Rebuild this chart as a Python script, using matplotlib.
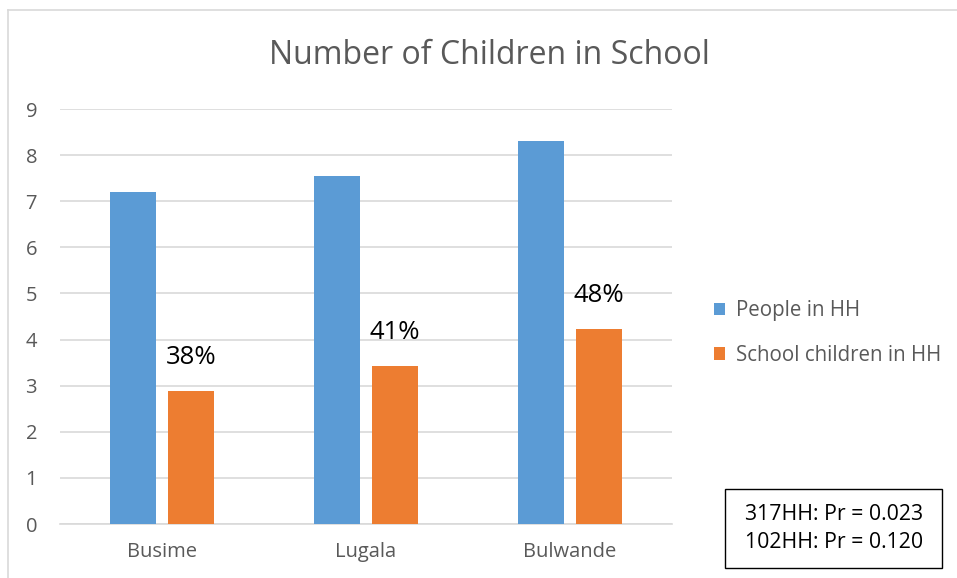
import matplotlib
matplotlib.use("Agg")
import matplotlib.pyplot as plt
from matplotlib.lines import Line2D
from matplotlib.patches import Patch, Rectangle

plt.rcParams['font.family'] = ['Open Sans', 'DejaVu Sans']

villages = ['Busime', 'Lugala', 'Bulwande']
people_hh = [7.20, 7.55, 8.31]
school_hh = [2.89, 3.43, 4.23]
pct_labels = ['38%', '41%', '48%']
stats_lines = ['317HH: Pr = 0.023', '102HH: Pr = 0.120']

blue = '#5b9bd5'
orange = '#ed7d31'
grey = '#595959'

W, H = 957, 578
fig = plt.figure(figsize=(W / 100, H / 100), dpi=100)
ax = fig.add_axes([60 / W, 1 - 524 / H, 612 / W, 415 / H])

x = list(range(len(villages)))
w = 0.224
off = 0.142
ax.bar([i - off for i in x], people_hh, width=w, color=blue, label='People in HH', zorder=3)
ax.bar([i + off for i in x], school_hh, width=w, color=orange, label='School children in HH', zorder=3)

# percentage of household members in school, above the orange bars
for i, (v, t) in enumerate(zip(school_hh, pct_labels)):
    ax.annotate(t, (i + off, v), xytext=(0, 33), textcoords='offset pixels',
                ha='center', va='center', fontsize=18.5, color='black')

ax.set_xlim(-0.5, 2.5)
ax.set_ylim(0, 9)
ax.set_yticks(range(0, 10))
ax.set_xticks(x)
ax.set_xticklabels(villages)
ax.grid(axis='y', color='#d9d9d9', linewidth=1.2, zorder=0)
ax.tick_params(axis='both', length=0, labelsize=14.5, labelcolor=grey)
ax.tick_params(axis='y', pad=16.5)
ax.tick_params(axis='x', pad=13)
for s in ['top', 'right', 'left']:
    ax.spines[s].set_visible(False)
ax.spines['bottom'].set_color('#d9d9d9')
ax.spines['bottom'].set_linewidth(1.2)

fig.text(489 / W, 1 - 55 / H, 'Number of Children in School', ha='center', va='center',
         fontsize=23, color=grey)

handles = [Patch(facecolor=blue), Patch(facecolor=orange)]
leg = fig.legend(handles, ['People in HH', 'School children in HH'],
                 loc='center left', bbox_to_anchor=(714 / W, 1 - 333 / H), frameon=False,
                 borderpad=0, borderaxespad=0,
                 fontsize=14.8, labelspacing=1.15, handlelength=0.55, handleheight=0.55,
                 handletextpad=0.5)
for t in leg.get_texts():
    t.set_color(grey)

# significance box
fig.add_artist(Rectangle((725 / W, 1 - 568 / H), 217 / W, 79 / H, transform=fig.transFigure,
                         facecolor='white', edgecolor='black', linewidth=1))
fig.text(834 / W, 1 - 515 / H, stats_lines[0], ha='center', va='center', fontsize=15.3, color='black')
fig.text(834 / W, 1 - 543 / H, stats_lines[1], ha='center', va='center', fontsize=15.3, color='black')

# outer chart frame
fig.add_artist(Line2D([8 / W, 8 / W], [0, 1 - 10 / H], color='#d9d9d9', linewidth=1.2))
fig.add_artist(Line2D([8 / W, 1], [1 - 10 / H, 1 - 10 / H], color='#d9d9d9', linewidth=1.2))

fig.savefig('out.png', dpi=100)
